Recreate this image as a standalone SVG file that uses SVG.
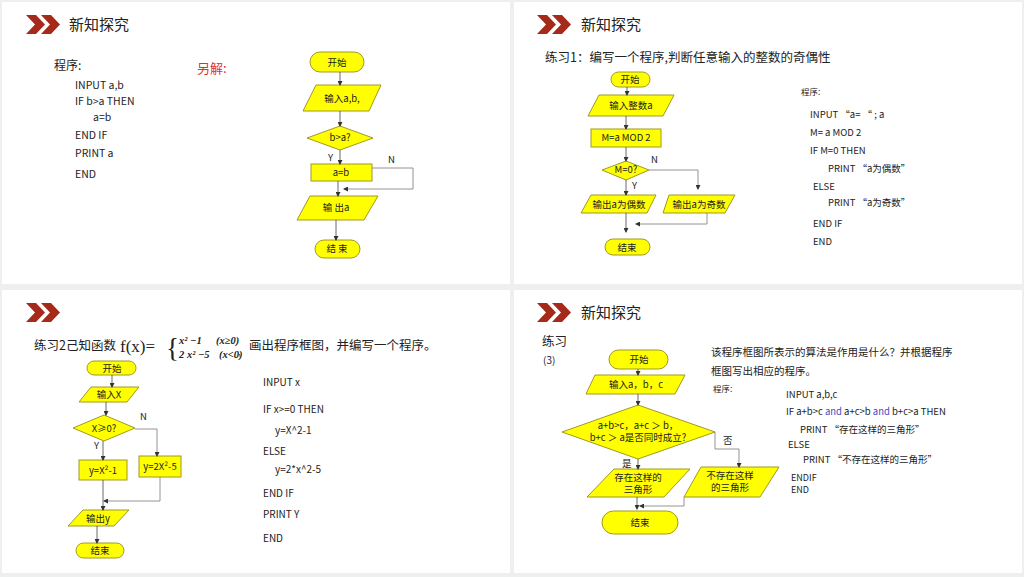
<svg xmlns="http://www.w3.org/2000/svg" width="1024" height="577" viewBox="0 0 1024 577">
<style>
text{font-family:"Noto Sans CJK SC","Noto Sans",sans-serif;fill:#222}
.t{font-size:15px}
.c{font-size:10.5px}
.s{font-size:9.5px;text-anchor:middle}
.y{fill:#ffff00;stroke:#a09a20;stroke-width:1}
.l{fill:none;stroke:#444;stroke-width:0.8}
.g{fill:none;stroke:#888;stroke-width:0.9}
.ch{fill:#a52a1a}
.m{font-family:"Liberation Serif",serif;font-weight:bold;font-size:10.5px;font-style:italic}
</style>
<defs>
<marker id="a" markerWidth="5" markerHeight="5" refX="4" refY="2.5" orient="auto" markerUnits="userSpaceOnUse"><path d="M0,0L5,2.5L0,5z" fill="#333"/></marker>
<g id="chev"><polygon class="ch" points="0,0 10,0 19,9.5 10,19 0,19 9,9.5"/><polygon class="ch" points="15,0 25,0 34,9.5 25,19 15,19 24,9.5"/></g>
</defs>
<rect width="1024" height="577" fill="#eef0f0"/>
<rect x="2" y="2" width="508" height="282" fill="#fff"/>
<rect x="514" y="2" width="508" height="282" fill="#fff"/>
<rect x="2" y="290" width="508" height="283" fill="#fff"/>
<rect x="514" y="290" width="508" height="283" fill="#fff"/>

<!-- Panel 1 -->
<g id="p1-head"><use href="#chev" x="26" y="15"/><text x="69" y="30" class="t">新知探究</text></g>
<g id="p1-code" class="c">
<text x="54" y="70" font-size="12">程序:</text>
<text x="75" y="89" font-size="10.5">INPUT  a,b</text>
<text x="75" y="105" font-size="10.5">IF b&gt;a  THEN</text>
<text x="93" y="121" font-size="10.5">a=b</text>
<text x="75" y="139" font-size="10.5">END IF</text>
<text x="75" y="157" font-size="10.5">PRINT  a</text>
<text x="75" y="178" font-size="10.5">END</text>
<text x="197" y="73" font-size="13" style="fill:#e03030">另解:</text>
</g>
<g id="p1-start"><rect class="y" x="310" y="52" width="54" height="20" rx="10"/><text class="s" x="337" y="66">开始</text></g>
<g id="p1-in"><polygon class="y" points="316,85 381,85 369,111 303,111"/><text class="s" x="342" y="102">输入a,b,</text></g>
<g id="p1-dec"><polygon class="y" points="307,138 340,126 373,138 340,150"/><text class="s" x="340" y="141">b&gt;a?</text></g>
<g id="p1-ab"><rect class="y" x="311" y="164" width="61" height="17"/><text class="s" x="341" y="176">a=b</text></g>
<g id="p1-out"><polygon class="y" points="310,196 378,196 364,220 297,220"/><text class="s" x="336" y="211">输 出a</text></g>
<g id="p1-end"><rect class="y" x="315" y="240" width="45" height="18" rx="9"/><text class="s" x="337" y="252">结  束</text></g>
<g id="p1-conn">
<line class="l" x1="340" y1="72" x2="340" y2="85" marker-end="url(#a)"/>
<line class="l" x1="340" y1="111" x2="340" y2="126" marker-end="url(#a)"/>
<line class="l" x1="340" y1="150" x2="340" y2="164" marker-end="url(#a)"/>
<polyline class="g" points="372,168 413,168 413,189 344,189" marker-end="url(#a)"/>
<line class="l" x1="338" y1="181" x2="338" y2="196" marker-end="url(#a)"/>
<line class="l" x1="336" y1="220" x2="336" y2="240" marker-end="url(#a)"/>
<text x="328" y="161" font-size="9.5">Y</text><text x="388" y="163" font-size="9.5">N</text>
</g>

<!-- Panel 2 -->
<g id="p2-head"><use href="#chev" x="537" y="15"/><text x="581" y="30" class="t">新知探究</text>
<text x="545" y="62" font-size="12.5">练习1：编写一个程序,判断任意输入的整数的奇偶性</text></g>
<g id="p2-start"><rect class="y" x="611" y="72" width="39" height="15" rx="7.5"/><text class="s" x="630" y="83">开始</text></g>
<g id="p2-in"><polygon class="y" points="599,95 674,95 663,116 588,116"/><text class="s" x="631" y="109">输入整数a</text></g>
<g id="p2-mod"><rect class="y" x="591" y="129" width="70" height="18"/><text class="s" x="626" y="141">M=a  MOD 2</text></g>
<g id="p2-dec"><polygon class="y" points="602,170 626,161 649,170 626,180"/><text class="s" x="626" y="173">M=0?</text></g>
<g id="p2-even"><polygon class="y" points="591,195 656,195 647,213 581,213"/><text class="s" x="619" y="208">输出a为偶数</text></g>
<g id="p2-odd"><polygon class="y" points="669,195 735,195 725,213 663,213"/><text class="s" x="699" y="208">输出a为奇数</text></g>
<g id="p2-end"><rect class="y" x="605" y="239" width="45" height="16" rx="8"/><text class="s" x="627" y="251">结束</text></g>
<g id="p2-conn">
<line class="l" x1="627" y1="87" x2="627" y2="95" marker-end="url(#a)"/>
<line class="l" x1="626" y1="116" x2="626" y2="129" marker-end="url(#a)"/>
<line class="l" x1="626" y1="147" x2="626" y2="161" marker-end="url(#a)"/>
<line class="l" x1="626" y1="180" x2="626" y2="195" marker-end="url(#a)"/>
<polyline class="g" points="649,170 698,170 698,189" marker-end="url(#a)"/>
<line class="l" x1="626" y1="213" x2="626" y2="232" marker-end="url(#a)"/>
<polyline class="g" points="707,213 707,224 636,224" marker-end="url(#a)"/>
<text x="651" y="163" font-size="9.5">N</text><text x="632" y="189" font-size="9.5">Y</text>
</g>
<g id="p2-code" font-size="9.5">
<text x="801" y="95" font-size="8.5">程序:</text>
<text x="810" y="118" font-size="9.5">INPUT    “a= “ ; a</text>
<text x="810" y="136" font-size="9.5">M= a  MOD  2</text>
<text x="810" y="154" font-size="9.5">IF  M=0   THEN</text>
<text x="828" y="172" font-size="9.5">PRINT   “a为偶数”</text>
<text x="813" y="190" font-size="9.5">ELSE</text>
<text x="828" y="206" font-size="9.5">PRINT   “a为奇数”</text>
<text x="813" y="227" font-size="9.5">END  IF</text>
<text x="813" y="245" font-size="9.5">END</text>
</g>

<!-- Panel 3 -->
<g id="p3-head"><use href="#chev" x="26" y="303"/>
<text x="34" y="350" font-size="12.5">练习2己知函数</text>
<text x="120" y="352" style="font-family:'Liberation Serif',serif" font-size="17">f(x)=</text>
<text x="166" y="357" style="font-family:'Liberation Serif',serif" font-size="27">{</text>
<text x="179" y="344" class="m">x² −1</text><text x="216" y="344" class="m">(x≥0)</text>
<text x="179" y="358" class="m">2 x² −5</text><text x="219" y="358" class="m">(x&lt;0)</text>
<text x="238" y="355" style="font-family:'Liberation Serif',serif" font-size="10">,</text>
<text x="249" y="350" font-size="12.5">画出程序框图，并编写一个程序。</text></g>
<g id="p3-start"><rect class="y" x="87" y="361" width="49" height="14" rx="7"/><text class="s" x="112" y="372" font-size="10">开始</text></g>
<g id="p3-in"><polygon class="y" points="91,387 139,387 127,402 79,402"/><text class="s" x="109" y="398" font-size="10">输入X</text></g>
<g id="p3-dec"><polygon class="y" points="73,428 104,415 135,428 104,441"/><text class="s" x="104" y="432" font-size="10">X≥0?</text></g>
<g id="p3-a"><rect class="y" x="79" y="460" width="48" height="20"/><text class="s" x="103" y="474" font-size="10">y=X²-1</text></g>
<g id="p3-b"><rect class="y" x="139" y="456" width="42" height="21"/><text class="s" x="160" y="470" font-size="10">y=2X²-5</text></g>
<g id="p3-out"><polygon class="y" points="83,510 129,510 114,526 68,526"/><text class="s" x="98" y="522" font-size="10">输出y</text></g>
<g id="p3-end"><rect class="y" x="76" y="543" width="48" height="15" rx="7.5"/><text class="s" x="100" y="554" font-size="10">结束</text></g>
<g id="p3-conn">
<line class="l" x1="112" y1="375" x2="112" y2="387" marker-end="url(#a)"/>
<line class="l" x1="106" y1="402" x2="106" y2="415" marker-end="url(#a)"/>
<line class="l" x1="103" y1="441" x2="103" y2="460" marker-end="url(#a)"/>
<polyline class="g" points="135,429 157,429 157,456" marker-end="url(#a)"/>
<line class="l" x1="103" y1="480" x2="103" y2="510" marker-end="url(#a)"/>
<polyline class="g" points="160,477 160,501 104,501" marker-end="url(#a)"/>
<line class="l" x1="97" y1="526" x2="97" y2="543" marker-end="url(#a)"/>
<text x="140" y="420" font-size="9.5">N</text><text x="94" y="449" font-size="9.5">Y</text>
</g>
<g id="p3-code" font-size="10">
<text x="263" y="386" font-size="10">INPUT  x</text>
<text x="263" y="413" font-size="10">IF x&gt;=0  THEN</text>
<text x="275" y="434" font-size="10">y=X^2-1</text>
<text x="263" y="455" font-size="10">ELSE</text>
<text x="275" y="473" font-size="10">y=2*x^2-5</text>
<text x="263" y="497" font-size="10">END  IF</text>
<text x="263" y="518" font-size="10">PRINT Y</text>
<text x="263" y="542" font-size="10">END</text>
</g>

<!-- Panel 4 -->
<g id="p4-head"><use href="#chev" x="537" y="303"/><text x="581" y="318" class="t">新知探究</text>
<text x="542" y="346" font-size="12.5">练习</text><text x="543" y="364" font-size="10">(3)</text></g>
<g id="p4-start"><rect class="y" x="609" y="350" width="59" height="19" rx="9.5"/><text class="s" x="639" y="363">开始</text></g>
<g id="p4-in"><polygon class="y" points="595,375 685,375 675,394 586,394"/><text class="s" x="636" y="388">输入a，b，c</text></g>
<g id="p4-dec"><polygon class="y" points="562,432 638,405 715,432 638,459"/><text class="s" x="638" y="429">a+b&gt;c，a+c ＞ b，</text><text class="s" x="638" y="441">b+c ＞ a是否同时成立?</text></g>
<g id="p4-yes"><polygon class="y" points="614,469 690,469 664,497 587,497"/><text class="s" x="638" y="481">存在这样的</text><text class="s" x="638" y="493">三角形</text></g>
<g id="p4-no"><polygon class="y" points="701,467 779,467 760,497 684,497"/><text class="s" x="730" y="479">不存在这样</text><text class="s" x="730" y="491">的三角形</text></g>
<g id="p4-end"><rect class="y" x="602" y="511" width="76" height="23" rx="11.5"/><text class="s" x="640" y="526">结束</text></g>
<g id="p4-conn">
<line class="l" x1="638" y1="369" x2="638" y2="375" marker-end="url(#a)"/>
<line class="l" x1="638" y1="394" x2="638" y2="405" marker-end="url(#a)"/>
<line class="l" x1="638" y1="459" x2="638" y2="469" marker-end="url(#a)"/>
<polyline class="g" points="715,432 715,449 739,449 739,467" marker-end="url(#a)"/>
<line class="l" x1="637" y1="497" x2="637" y2="509" marker-end="url(#a)"/>
<polyline class="g" points="684,497 684,506 640,506" marker-end="url(#a)"/>
<text x="723" y="444" font-size="9.5">否</text><text x="622" y="467" font-size="9.5">是</text>
</g>
<g id="p4-text" font-size="9.5">
<text x="711" y="356" font-size="10.5">该程序框图所表示的算法是作用是什么？并根据程序</text>
<text x="711" y="375" font-size="10.5">框图写出相应的程序。</text>
<text x="713" y="392" font-size="8.5">程序:</text>
<text x="786" y="398" font-size="9.5">INPUT  a,b,c</text>
<text x="786" y="415" font-size="9.5">IF a+b&gt;c <tspan style="fill:#4a4ac8">and</tspan> a+c&gt;b <tspan style="fill:#4a4ac8">and</tspan> b+c&gt;a THEN</text>
<text x="800" y="433" font-size="9.5">PRINT  “存在这样的三角形”</text>
<text x="788" y="448" font-size="9.5">ELSE</text>
<text x="803" y="463" font-size="9.5">PRINT  “不存在这样的三角形”</text>
<text x="791" y="481" font-size="9">ENDIF</text>
<text x="791" y="493" font-size="9">END</text>
</g>
</svg>
